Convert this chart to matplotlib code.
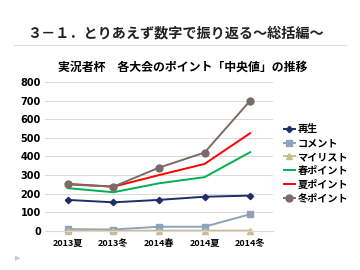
import matplotlib.pyplot as plt

plt.rcParams['font.family'] = ['Noto Sans CJK JP', 'DejaVu Sans']

categories = ['2013夏', '2013冬', '2014春', '2014夏', '2014冬']
series_names = ['再生', 'コメント', 'マイリスト', '春ポイント', '夏ポイント', '冬ポイント']
saisei = [167, 154, 167, 184, 190]
comment = [10, 8, 23, 23, 90]
mylist = [2, 1, 2, 2, 2]
haru = [230, 208, 256, 289, 423]
natsu = [253, 238, 300, 360, 525]
fuyu = [250, 238, 340, 421, 699]

colors = ['#1f2d6b', '#8fa2ba', '#c8bd8e', '#00b050', '#ff0000', '#7c6a66']
markers = ['D', 's', '^', None, None, 'o']
sizes = [3.2, 4.5, 4.5, 0, 0, 5]

fig = plt.figure(figsize=(3.6, 2.7), dpi=100)
fig.patch.set_facecolor('white')

fig.text(0.075, 0.878, '３－１．とりあえず数字で振り返る～総括編～',
         fontsize=10.2, fontweight='bold', color='#222222', va='center')
fig.add_artist(plt.Line2D([0.04, 0.96], [0.835, 0.835], color='#dddddd', lw=0.8))
fig.text(0.508, 0.752, '実況者杯　各大会のポイント「中央値」の推移',
         fontsize=8.6, fontweight='bold', ha='center', va='center')
fig.text(0.05, 0.045, '▶', fontsize=5, color='#c8c8c8', ha='center', va='center',
         family=['DejaVu Sans'])

ax = fig.add_axes([0.125, 0.1444, 0.633, 0.552])
x = list(range(len(categories)))
data = [saisei, comment, mylist, haru, natsu, fuyu]
for vals, name, c, m, s in zip(data, series_names, colors, markers, sizes):
    ax.plot(x, vals, color=c, lw=1.4, marker=m, ms=s, label=name, clip_on=False)

ax.set_ylim(0, 800)
ax.set_yticks(range(0, 801, 100))
ax.set_xlim(-0.5, 4.5)
ax.set_xticks(x)
ax.set_xticklabels(categories, fontsize=6.5, fontweight='bold')
for lab in ax.get_yticklabels():
    lab.set_fontsize(7)
    lab.set_fontweight('bold')
    lab.set_family(['DejaVu Sans'])
ax.grid(axis='y', color='#d9d9d9', lw=0.7)
ax.set_axisbelow(True)
for sp in ['top', 'right', 'left']:
    ax.spines[sp].set_visible(False)
ax.spines['bottom'].set_color('#d9d9d9')
ax.tick_params(axis='y', length=0, pad=3)
ax.tick_params(axis='x', length=0, pad=6)

leg = ax.legend(loc='center left', bbox_to_anchor=(1.03, 0.45), frameon=False,
                fontsize=7.3, handlelength=1.1, handletextpad=0.25,
                labelspacing=0.38, borderaxespad=0)
for t in leg.get_texts():
    t.set_fontweight('bold')

fig.savefig('out.png', dpi=100)
